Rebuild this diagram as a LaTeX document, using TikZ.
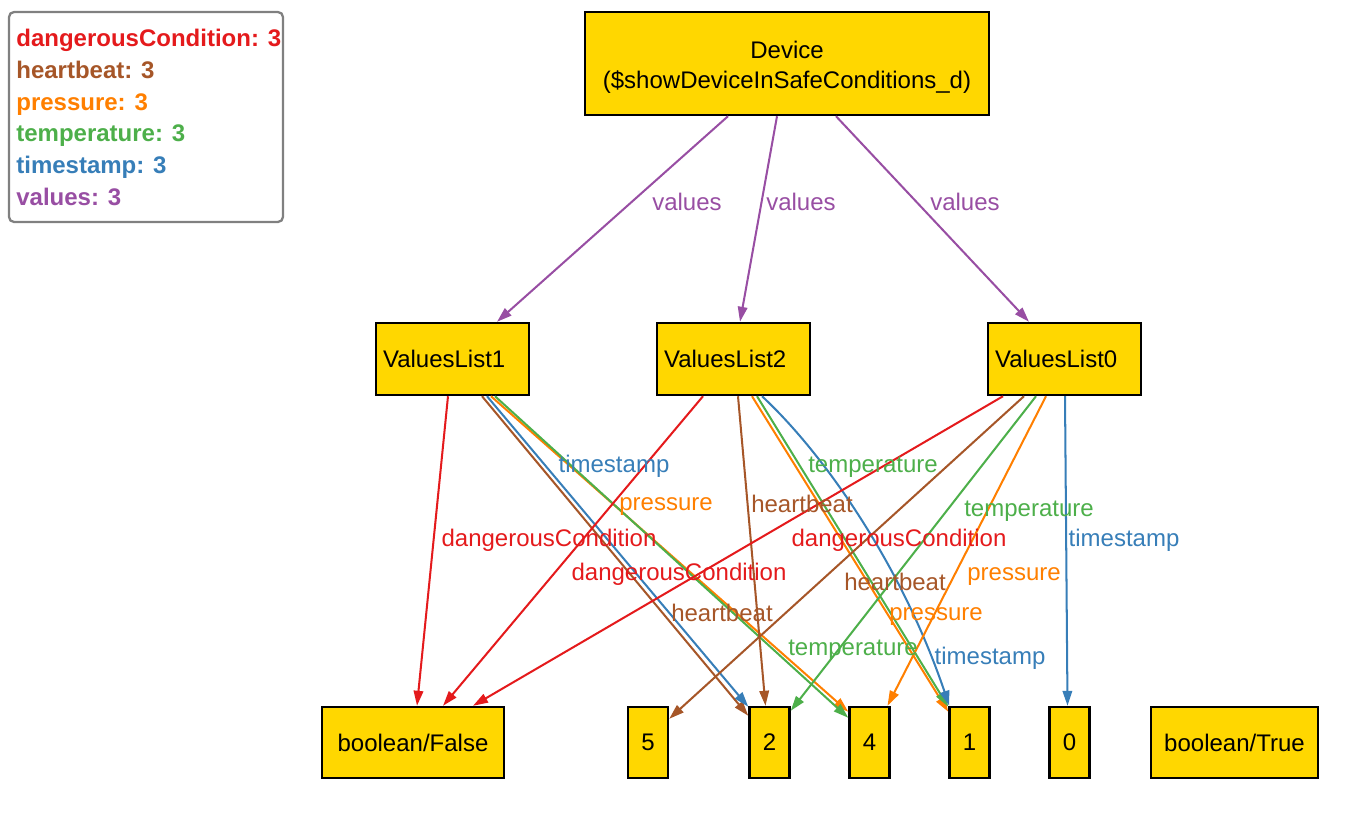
\documentclass[tikz,border=0pt]{standalone}
\usepackage{fontspec}
\setmainfont{Liberation Sans}
\usetikzlibrary{arrows.meta,calc}
\definecolor{cRed}{HTML}{E41A1C}
\definecolor{cBrown}{HTML}{A65628}
\definecolor{cOrange}{HTML}{FF7F00}
\definecolor{cGreen}{HTML}{4DAF4A}
\definecolor{cBlue}{HTML}{377EB8}
\definecolor{cPurple}{HTML}{984EA3}
\definecolor{cGold}{HTML}{FFD700}
\begin{document}
\begin{tikzpicture}[x=0.02cm,y=-0.02cm,
  font=\fontsize{13.66pt}{17.07pt}\selectfont,
  box/.style={draw=black, line width=1.4pt, fill=cGold, inner sep=0pt, minimum height=1.42cm},
  vbox/.style={box, minimum width=3.06cm, minimum height=1.44cm, text width=2.78cm, inner xsep=0.14cm, align=left},
  dbox/.style={box, minimum width=0.8cm},
  edge/.style={line width=1.15pt, -{Triangle[length=0.3cm,width=0.19cm]}},
  lab/.style={anchor=base, inner sep=0pt},
  leg/.style={anchor=base west, inner sep=0pt, font=\fontsize{13.66pt}{17.07pt}\selectfont\bfseries}
]
\useasboundingbox (0,0) rectangle (1372,818);

% legend
\node[draw=gray, line width=1.3pt, rounded corners=0.1cm, minimum width=5.48cm, minimum height=4.2cm, inner sep=0pt] (legend) at (146,117) {};
\node[leg, text=cRed]    (lg1) at (16,46.7)  {dangerousCondition: 3};
\node[leg, text=cBrown]  (lg2) at (16,78.4)  {heartbeat: 3};
\node[leg, text=cOrange] (lg3) at (16,110.0) {pressure: 3};
\node[leg, text=cGreen]  (lg4) at (16,141.7) {temperature: 3};
\node[leg, text=cBlue]   (lg5) at (16,173.3) {timestamp: 3};
\node[leg, text=cPurple] (lg6) at (16,205.0) {values: 3};

% nodes
\node[box, minimum width=8.08cm, minimum height=2.06cm, align=center] (dev) at (787,63.5)
  {\rule{0pt}{14.4pt}Device\\(\$showDeviceInSafeConditions\_d)};
\node[vbox] (v1) at (452.5,359) {ValuesList1};
\node[vbox] (v2) at (733.5,359) {ValuesList2};
\node[vbox] (v0) at (1064.5,359) {ValuesList0};
\node[box, minimum width=3.64cm] (bF) at (413,742.5) {boolean/False};
\node[dbox] (n5) at (648,742.5) {5};
\node[dbox] (n2) at (769.5,742.5) {2};
\node[dbox] (n4) at (869.5,742.5) {4};
\node[dbox] (n1) at (969.5,742.5) {1};
\node[dbox] (n0) at (1069.5,742.5) {0};
\node[box, minimum width=3.34cm] (bT) at (1234.5,742.5) {boolean/True};

% values edges
\draw[edge, cPurple] ($(dev.south)+(-59,0)$) -- ($(v1.north)+(44.5,0)$);
\draw[edge, cPurple] ($(dev.south)+(-10,0)$) -- ($(v2.north)+(6.5,0)$);
\draw[edge, cPurple] ($(dev.south)+(49,0)$) -- ($(v0.north)+(-35.5,0)$);
\node[lab, text=cPurple] (lv1) at (687,210) {values};
\node[lab, text=cPurple] (lv2) at (801,210) {values};
\node[lab, text=cPurple] (lv0) at (965,210) {values};

% ValuesList1 edges
\draw[edge, cRed]    ($(v1.south)+(-4.5,0)$) -- ($(bF.north)+(4,0)$);
\draw[edge, cBrown]  ($(v1.south)+(29.5,0)$) -- ($(n2.north west)+(0,10)$);
\draw[edge, cBlue]   ($(v1.south)+(34.5,0)$) -- ($(n2.north west)+(0,1)$);
\draw[edge, cOrange] ($(v1.south)+(38.5,0)$) -- ($(n4.north west)+(0,6)$);
\draw[edge, cGreen]  ($(v1.south)+(42.5,0)$) -- ($(n4.north west)+(0,12)$);

% ValuesList2 edges
\draw[edge, cRed]    ($(v2.south)+(-30.5,0)$) -- ($(bF.north)+(30,0)$);
\draw[edge, cBrown]  ($(v2.south)+(4.5,0)$) -- ($(n2.north)+(-4,0)$);
\draw[edge, cOrange] ($(v2.south)+(18.5,0)$) -- ($(n1.north west)+(0,6)$);
\draw[edge, cGreen]  ($(v2.south)+(23.5,0)$) -- ($(n1.north west)+(0,1)$);
\draw[edge, cBlue]   ($(v2.south)+(28.5,0)$) .. controls (820,450) and (900,560) .. ($(n1.north west)+(1,0)$);

% ValuesList0 edges
\draw[edge, cRed]    ($(v0.south)+(-61.5,0)$) -- ($(bF.north)+(60,0)$);
\draw[edge, cBrown]  ($(v0.south)+(-40.5,0)$) -- ($(n5.north east)+(0,13)$);
\draw[edge, cGreen]  ($(v0.south)+(-28.5,0)$) -- ($(n2.north east)+(0,5)$);
\draw[edge, cOrange] ($(v0.south)+(-18.5,0)$) -- ($(n4.north)+(18,0)$);
\draw[edge, cBlue]   ($(v0.south)+(0.5,0)$) -- ($(n0.north)+(-2,0)$);

% edge labels
\node[lab, text=cRed]    (a1) at (549,546) {dangerousCondition};
\node[lab, text=cBrown]  (a2) at (722,621) {heartbeat};
\node[lab, text=cBlue]   (a3) at (614,472) {timestamp};
\node[lab, text=cOrange] (a4) at (666,510) {pressure};
\node[lab, text=cGreen]  (a5) at (853,655) {temperature};

\node[lab, text=cRed]    (b1) at (679,580) {dangerousCondition};
\node[lab, text=cBrown]  (b2) at (802,512) {heartbeat};
\node[lab, text=cOrange] (b3) at (936,620) {pressure};
\node[lab, text=cGreen]  (b4) at (873,472) {temperature};
\node[lab, text=cBlue]   (b5) at (990,664) {timestamp};

\node[lab, text=cRed]    (c1) at (899,546) {dangerousCondition};
\node[lab, text=cBrown]  (c2) at (895,590) {heartbeat};
\node[lab, text=cOrange] (c3) at (1014,580) {pressure};
\node[lab, text=cGreen]  (c4) at (1029,516) {temperature};
\node[lab, text=cBlue]   (c5) at (1124,546) {timestamp};
\end{tikzpicture}
\end{document}
